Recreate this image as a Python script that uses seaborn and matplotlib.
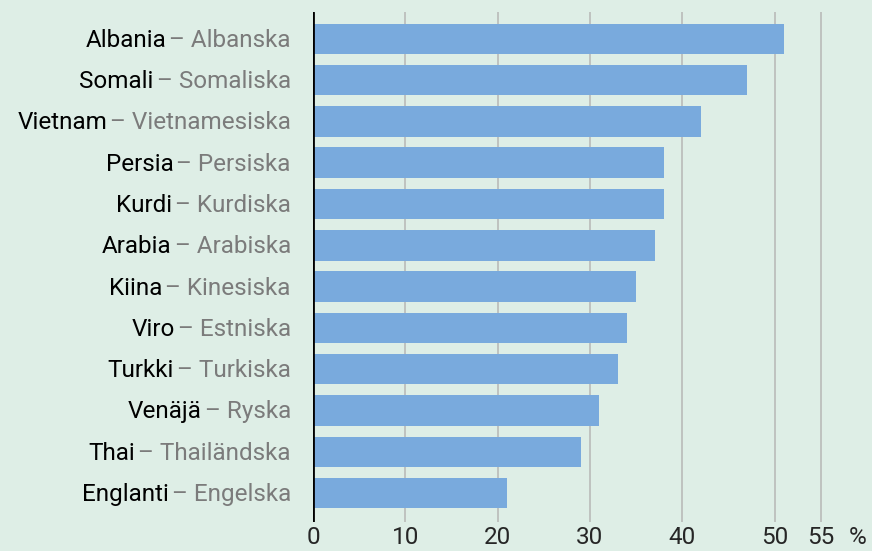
import matplotlib
matplotlib.use('Agg')
import matplotlib.pyplot as plt
import pandas as pd
import seaborn as sns

# data (percent)
finska = ['Albania', 'Somali', 'Vietnam', 'Persia', 'Kurdi', 'Arabia',
          'Kiina', 'Viro', 'Turkki', 'Venäjä', 'Thai', 'Englanti']
svenska = ['Albanska', 'Somaliska', 'Vietnamesiska', 'Persiska', 'Kurdiska',
           'Arabiska', 'Kinesiska', 'Estniska', 'Turkiska', 'Ryska',
           'Thailändska', 'Engelska']
osuus = [51, 47, 42, 38, 38, 37, 35, 34, 33, 31, 29, 21]
xticks = [0, 10, 20, 30, 40, 50, 55]

bg = '#deeee6'
bar_col = '#79aadd'
grid_col = '#bcbfbc'
gray_txt = '#7b7b7b'
fs = 17.5

sns.set_style('white')
plt.rcParams['font.family'] = ['Roboto', 'DejaVu Sans']

df = pd.DataFrame({'kieli': finska, 'osuus': osuus})

fig = plt.figure(figsize=(8.72, 5.51), dpi=100, facecolor=bg)
ax = fig.add_axes([313 / 872, 1 - 522 / 551, (830 - 313) / 872, (522 - 12) / 551])
ax.set_facecolor(bg)

for t in xticks[1:]:
  ax.axvline(t, color=grid_col, lw=1.3, zorder=0)

sns.barplot(data=df, x='osuus', y='kieli', orient='h', color=bar_col,
            saturation=1, width=0.74, linewidth=0, ax=ax, zorder=2)

ax.set_xlim(0, 56)
ax.set_ylim(len(finska) - 1 + 0.7, -0.65)
ax.axvline(0, color='black', lw=2, zorder=3)
for s in ax.spines.values():
  s.set_visible(False)

ax.set_xticks(xticks)
ax.set_xticklabels([str(t) for t in xticks], fontsize=fs)
ax.tick_params(axis='x', length=0, pad=3)
ax.text(59, -0.008, '%', transform=ax.get_xaxis_transform(), fontsize=fs,
        va='top', ha='center')

ax.set_yticks(range(len(finska)))
ax.set_yticklabels([])
ax.tick_params(axis='y', length=0)
ax.set_xlabel('')
ax.set_ylabel('')

trans = ax.get_yaxis_transform()
for i, (fi, sv) in enumerate(zip(finska, svenska)):
  g = ax.annotate('– ' + sv, xy=(0, i), xycoords=trans, xytext=(-16, -1),
                  textcoords='offset points', ha='right', va='center',
                  fontsize=fs, color=gray_txt)
  ax.annotate(fi, xy=(0, 0.5), xycoords=g, xytext=(-2, 0),
              textcoords='offset points', ha='right', va='center',
              fontsize=fs, color='black')

fig.savefig('out.png', dpi=100, facecolor=bg)
